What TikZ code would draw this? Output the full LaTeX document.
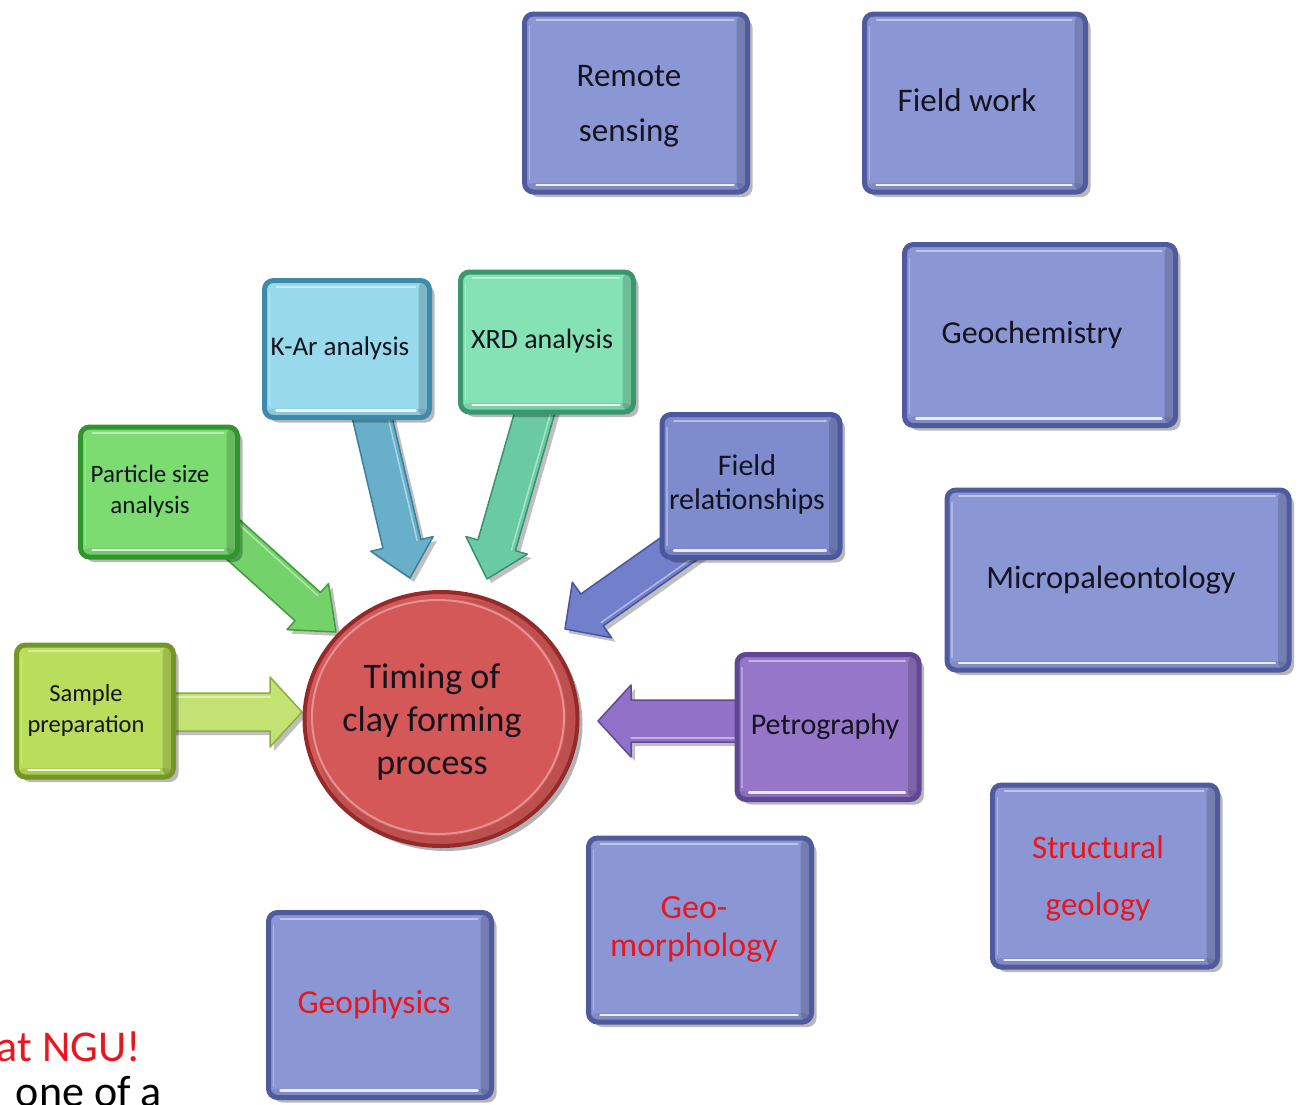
\documentclass[tikz,border=0pt]{standalone}
\usepackage{fontspec}
\setmainfont{Carlito}
\usetikzlibrary{calc,shapes.geometric,shadows,backgrounds}
\definecolor{bluef}{RGB}{139,151,212}
\definecolor{bluer}{RGB}{80,90,158}
\definecolor{frf}{RGB}{126,140,206}
\definecolor{frr}{RGB}{76,88,158}
\definecolor{petf}{RGB}{150,118,200}
\definecolor{petr}{RGB}{96,70,148}
\definecolor{xrdf}{RGB}{132,226,180}
\definecolor{xrdr}{RGB}{58,150,108}
\definecolor{karf}{RGB}{152,218,236}
\definecolor{karr}{RGB}{62,138,170}
\definecolor{parf}{RGB}{124,220,114}
\definecolor{parr}{RGB}{50,148,46}
\definecolor{samf}{RGB}{186,222,92}
\definecolor{samr}{RGB}{116,150,38}
\definecolor{cirf}{RGB}{212,88,88}
\definecolor{cirr}{RGB}{148,42,42}
\definecolor{labk}{RGB}{20,20,30}
\definecolor{labr}{RGB}{232,22,30}
\definecolor{aonef}{RGB}{196,226,116}\definecolor{aoner}{RGB}{140,172,62}
\definecolor{atwof}{RGB}{116,210,106}\definecolor{atwor}{RGB}{66,156,58}
\definecolor{athreef}{RGB}{104,176,202}\definecolor{athreer}{RGB}{58,128,158}
\definecolor{afourf}{RGB}{106,202,164}\definecolor{afourr}{RGB}{56,148,112}
\definecolor{afivef}{RGB}{114,128,204}\definecolor{afiver}{RGB}{72,86,160}
\definecolor{asixf}{RGB}{146,114,200}\definecolor{asixr}{RGB}{98,72,154}
\newcommand\fsz[2]{\fontsize{#1}{#2}\selectfont}
% text block shifted left by half of #1
\newcommand\tb[2]{\hspace*{-#1}\begin{tabular}{@{}c@{}}#2\end{tabular}}
% start, tip, half shaft, half head, head length, style
\newcommand\blockarrow[6]{%
  \coordinate (ba-h) at ($(#2)!#5!(#1)$);
  \draw[#6] ($(#1)!#3!90:(#2)$) -- ($(ba-h)!#3!90:(#2)$) -- ($(ba-h)!#4!90:(#2)$) -- (#2)
    -- ($(ba-h)!#4!-90:(#2)$) -- ($(ba-h)!#3!-90:(#2)$) -- ($(#1)!#3!-90:(#2)$) -- cycle;
  \draw[white, opacity=.45, line width=1.5pt, line cap=round]
    ($(#1)!#3-4pt!90:(#2)$) -- ($(ba-h)!#3-4pt!90:(#2)$);
}
\tikzset{
  bx/.style 2 args={rectangle, rounded corners=9pt, line width=5pt, fill=#1, draw=#2,
    text=labk, inner sep=2pt,
    drop shadow={shadow xshift=5pt, shadow yshift=-5pt, opacity=.28, fill=black},
    path picture={
      \fill[black, opacity=.16]
        ([xshift=-11pt]path picture bounding box.north east) rectangle
        (path picture bounding box.south east);
      \fill[black, opacity=.08]
        ([yshift=9pt]path picture bounding box.south west) rectangle
        (path picture bounding box.south east);
      \draw[white, opacity=.45, line width=2pt, line cap=round]
        ([xshift=12pt,yshift=-6pt]path picture bounding box.north west) --
        ([xshift=-14pt,yshift=-6pt]path picture bounding box.north east);
      \draw[white, opacity=.85, line width=2.5pt, line cap=round]
        ([xshift=12pt,yshift=7pt]path picture bounding box.south west) --
        ([xshift=-14pt,yshift=7pt]path picture bounding box.south east);
      \draw[white, opacity=.3, line width=1.5pt]
        ([xshift=5pt,yshift=-12pt]path picture bounding box.north west) --
        ([xshift=5pt,yshift=12pt]path picture bounding box.south west);
    }},
  barrow/.style 2 args={fill=#1, draw=#2, line width=1.5pt, line join=round,
    drop shadow={shadow xshift=4pt, shadow yshift=-4pt, opacity=.25, fill=black}},
  redlab/.style={text=labr},
}
\begin{document}
\begin{tikzpicture}[x=1pt,y=-1pt]
\useasboundingbox (0,0) rectangle (1301,1104);
\clip (0,0) rectangle (1301,1104);

% central node
\node[ellipse, minimum width=273pt, minimum height=254pt, inner sep=0pt, fill=cirf, draw=cirr,
  line width=4pt, text=labk, font=\fsz{36}{43},
  drop shadow={shadow xshift=5pt, shadow yshift=-5pt, opacity=.3, fill=black},
  path picture={
    \fill[black, opacity=.10] ([xshift=14pt,yshift=-10pt]path picture bounding box.center) ellipse [x radius=140pt, y radius=130pt];
    \fill[cirf] ([xshift=-3pt,yshift=2pt]path picture bounding box.center) ellipse [x radius=128pt, y radius=119pt];
    \draw[white, opacity=.35, line width=2pt] ([xshift=-3pt,yshift=2pt]path picture bounding box.center) ellipse [x radius=126pt, y radius=117pt];
  }] (circ) at (441,719) {\raisebox{0pt}[\dimexpr\height+8pt\relax][\depth]{\tb{18pt}{Timing of\\clay forming\\process}}};

% boxes
\node[bx={bluef}{bluer}, minimum width=223pt, minimum height=178pt, font=\fsz{33}{55}] (remote) at (636,103) {\tb{14pt}{Remote\\sensing}};
\node[bx={bluef}{bluer}, minimum width=221pt, minimum height=178pt, font=\fsz{33}{40}] (fieldwork) at (975,103) {\tb{16pt}{Field work}};
\node[bx={bluef}{bluer}, minimum width=271pt, minimum height=181pt, font=\fsz{32}{40}] (geochem) at (1040,335) {\tb{16pt}{Geochemistry}};
\node[bx={bluef}{bluer}, minimum width=342pt, minimum height=180pt, font=\fsz{32.5}{40}] (micro) at (1118,580) {\tb{14pt}{Micropaleontology}};
\node[bx={bluef}{bluer}, redlab, minimum width=225pt, minimum height=182pt, font=\fsz{33}{57}] (struct) at (1105,876) {\tb{14pt}{Structural\\geology}};
\node[bx={bluef}{bluer}, redlab, minimum width=223pt, minimum height=184pt, font=\fsz{34}{38}] (geomorph) at (700,930) {\tb{12pt}{Geo-\\morphology}};
\node[bx={bluef}{bluer}, redlab, minimum width=223pt, minimum height=185pt, font=\fsz{33.5}{40}] (geophys) at (380,1005) {\tb{12pt}{Geophysics}};
\node[bx={petf}{petr}, minimum width=182pt, minimum height=145pt, font=\fsz{30}{36}] (petro) at (828,727) {\tb{6pt}{Petrography}};
\node[bx={frf}{frr}, minimum width=178pt, minimum height=143pt, font=\fsz{30}{34}] (fieldrel) at (751,486) {\tb{8pt}{Field\\relationships}};
\node[bx={xrdf}{xrdr}, minimum width=173pt, minimum height=140pt, font=\fsz{28}{34}] (xrd) at (547,342) {\tb{10pt}{XRD analysis}};
\node[bx={karf}{karr}, minimum width=165pt, minimum height=137pt, font=\fsz{27}{34}] (kar) at (347,349) {\tb{14pt}{K-Ar analysis}};
\node[bx={parf}{parr}, minimum width=157pt, minimum height=130pt, font=\fsz{25}{31}] (particle) at (159,492) {\tb{18pt}{Particle size\\analysis}};
\node[bx={samf}{samr}, minimum width=157pt, minimum height=132pt, font=\fsz{24.5}{31}] (sample) at (95,711) {\tb{18pt}{Sample\\preparation}};

% partial texts at the lower left
\node[anchor=base east, inner sep=0pt, text=labr, font=\fsz{44}{50}] (ngu) at (141,1061) {at NGU!};
\node[anchor=base east, inner sep=0pt, text=black, font=\fsz{44}{50}] (onea) at (162,1106) {one of a};

% arrow end points
\coordinate (t1) at ($(circ.center)+(-139,-7)$);
\coordinate (s1) at (sample.center |- t1);
\coordinate (t2) at ($(circ.center)+(-105,-87)$);
\coordinate (s2) at ($(particle.center)+(28,6)$);
\coordinate (t3) at ($(circ.center)+(-31,-141)$);
\coordinate (s3) at ($(kar.center)+(9,0)$);
\coordinate (t4) at ($(circ.center)+(46,-140)$);
\coordinate (s4) at ($(xrd.center)+(8,0)$);
\coordinate (t5) at ($(circ.center)+(124,-90)$);
\coordinate (s5) at ($(fieldrel.center)+(-40,40)$);
\coordinate (t6) at ($(circ.center)+(157,2)$);
\coordinate (s6) at (petro.center |- t6);

\begin{scope}[on background layer]
  \blockarrow{s1}{t1}{19pt}{35pt}{32pt}{barrow={aonef}{aoner}}
  \blockarrow{s2}{t2}{19pt}{31pt}{38pt}{barrow={atwof}{atwor}}
  \blockarrow{s3}{t3}{19.5pt}{32pt}{35pt}{barrow={athreef}{athreer}}
  \blockarrow{s4}{t4}{19.5pt}{32pt}{35pt}{barrow={afourf}{afourr}}
  \blockarrow{s5}{t5}{19.5pt}{34pt}{33pt}{barrow={afivef}{afiver}}
  \blockarrow{s6}{t6}{21pt}{36pt}{33pt}{barrow={asixf}{asixr}}
\end{scope}
\end{tikzpicture}
\end{document}
